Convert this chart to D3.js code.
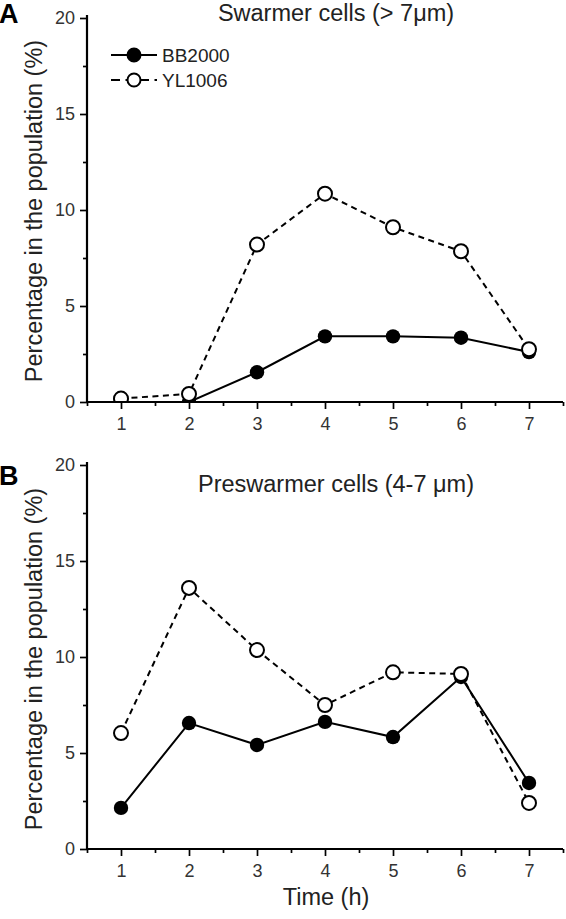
<!DOCTYPE html>
<html><head><meta charset="utf-8">
<script src="https://cdn.jsdelivr.net/npm/d3@7"></script>
<style>
html,body{margin:0;padding:0;background:#fff;}
text{font-family:"Liberation Sans",Arial,sans-serif;}
</style></head>
<body>
<svg id="chart" width="566" height="919"></svg>
<script>
const times = [1, 2, 3, 4, 5, 6, 7];
const seriesNames = ["BB2000", "YL1006"];
const swarmerBB2000 = [0.0, 0.0, 1.55, 3.42, 3.42, 3.35, 2.6];
const swarmerYL1006 = [0.18, 0.42, 8.2, 10.85, 9.1, 7.85, 2.75];
const preswarmerBB2000 = [2.14, 6.56, 5.42, 6.62, 5.83, 8.96, 3.44];
const preswarmerYL1006 = [6.04, 13.6, 10.36, 7.5, 9.2, 9.12, 2.4];
const yTicks = [0, 5, 10, 15, 20];
const yMinorTicks = [2.5, 7.5, 12.5, 17.5];
const xMinorTicks = [0.5, 1.5, 2.5, 3.5, 4.5, 5.5, 6.5, 7.5];
const panelTitles = ["Swarmer cells (> 7\u03bcm)", "Preswarmer cells (4-7 \u03bcm)"];
const panelLetters = ["A", "B"];
const yLabel = "Percentage in the population (%)";
const xLabel = "Time (h)";

const svg = d3.select("#chart");
const left = 87, right = 563;
const x = d3.scaleLinear().domain([0.5, 7.5]).range([left, right]);

const panels = [
  {y0: 402, bb: swarmerBB2000, yl: swarmerYL1006, title: panelTitles[0], letter: panelLetters[0], titleY: 21, letterY: 23, legend: true, xlab: false, labelCY: 211},
  {y0: 849, bb: preswarmerBB2000, yl: preswarmerYL1006, title: panelTitles[1], letter: panelLetters[1], titleY: 492, letterY: 485, legend: false, xlab: true, labelCY: 659}
];

panels.forEach((p, i) => {
  const y = d3.scaleLinear().domain([0, 20]).range([p.y0, p.y0 - 384]);
  const g = svg.append("g");

  const clipId = "clip" + i;
  svg.append("clipPath").attr("id", clipId).append("rect")
    .attr("x", left).attr("y", p.y0 - 400).attr("width", right - left + 10).attr("height", 399);

  g.append("g").attr("transform", `translate(0,${p.y0})`)
    .call(d3.axisBottom(x).tickValues(xMinorTicks).tickSize(4).tickFormat(""))
    .call(s => s.select(".domain").remove())
    .call(s => s.selectAll("line").attr("stroke", "#000").attr("stroke-width", 1.7));
  g.append("g").attr("transform", `translate(${left},0)`)
    .call(d3.axisLeft(y).tickValues(yMinorTicks).tickSize(4).tickFormat(""))
    .call(s => s.select(".domain").remove())
    .call(s => s.selectAll("line").attr("stroke", "#000").attr("stroke-width", 1.7));

  const xa = g.append("g").attr("transform", `translate(0,${p.y0})`)
    .call(d3.axisBottom(x).tickValues(times).tickSize(7).tickPadding(8).tickFormat(d3.format("d")));
  xa.select(".domain").attr("d", `M${left},0H${right}`).attr("stroke", "#000").attr("stroke-width", 2.2);
  xa.selectAll("line").attr("stroke", "#000").attr("stroke-width", 1.7);
  xa.selectAll("text").attr("font-size", 18).attr("fill", "#333").attr("font-family", "Liberation Sans, Arial, sans-serif");

  const ya = g.append("g").attr("transform", `translate(${left},0)`)
    .call(d3.axisLeft(y).tickValues(yTicks).tickSize(7).tickPadding(5).tickFormat(d3.format("d")));
  ya.select(".domain").attr("d", `M0,${p.y0}V${y(20) - 3}`).attr("stroke", "#000").attr("stroke-width", 2.2);
  ya.selectAll("line").attr("stroke", "#000").attr("stroke-width", 1.7);
  ya.selectAll("text").attr("font-size", 18).attr("fill", "#333").attr("font-family", "Liberation Sans, Arial, sans-serif");

  const line = d3.line().x((d, j) => x(times[j])).y(d => y(d));
  const dg = svg.append("g").attr("clip-path", `url(#${clipId})`);
  dg.append("path").datum(p.bb).attr("d", line).attr("fill", "none").attr("stroke", "#000").attr("stroke-width", 2);
  dg.selectAll(".bb").data(p.bb).enter().append("circle")
    .attr("cx", (d, j) => x(times[j])).attr("cy", d => y(d)).attr("r", 7.2).attr("fill", "#000");
  dg.append("path").datum(p.yl).attr("d", line).attr("fill", "none").attr("stroke", "#000").attr("stroke-width", 2).attr("stroke-dasharray", "6,4.5");
  dg.selectAll(".yl").data(p.yl).enter().append("circle")
    .attr("cx", (d, j) => x(times[j])).attr("cy", d => y(d)).attr("r", 7).attr("fill", "#fff").attr("stroke", "#000").attr("stroke-width", 2);

  svg.append("text").attr("x", 336).attr("y", p.titleY).attr("text-anchor", "middle")
    .attr("font-size", 23.5).attr("fill", "#222").text(p.title);
  svg.append("text").attr("x", -1).attr("y", p.letterY).attr("font-size", 27).attr("font-weight", "bold")
    .attr("fill", "#000").text(p.letter);
  svg.append("text").attr("transform", `translate(42,${p.labelCY}) rotate(-90)`).attr("text-anchor", "middle")
    .attr("font-size", 23.5).attr("fill", "#222").text(yLabel);
  if (p.xlab) {
    svg.append("text").attr("x", 326).attr("y", 905).attr("text-anchor", "middle")
      .attr("font-size", 23.5).attr("fill", "#222").text(xLabel);
  }

  if (p.legend) {
    const rows = [{name: seriesNames[0], y: 55, dash: null, fill: "#000"}, {name: seriesNames[1], y: 80, dash: "9,5.5", fill: "#fff"}];
    rows.forEach(r => {
      const lg = svg.append("g");
      lg.append("line").attr("x1", 111).attr("x2", 157).attr("y1", r.y).attr("y2", r.y)
        .attr("stroke", "#000").attr("stroke-width", 2).attr("stroke-dasharray", r.dash);
      lg.append("circle").attr("cx", 134).attr("cy", r.y).attr("r", 6.5).attr("fill", r.fill).attr("stroke", "#000").attr("stroke-width", 2);
      lg.append("text").attr("x", 162).attr("y", r.y + 6.5).attr("font-size", 19).attr("fill", "#222").text(r.name);
    });
  }
});
</script>
</body></html>
